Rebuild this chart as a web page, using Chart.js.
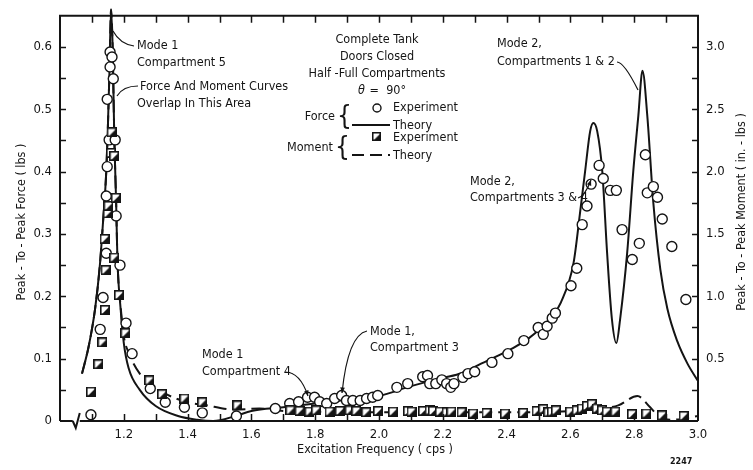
<!DOCTYPE html>
<html>
<head>
<meta charset="utf-8">
<script src="https://cdn.jsdelivr.net/npm/chart.js@4.4.0/dist/chart.umd.min.js"></script>
<style>
  html, body { margin: 0; padding: 0; background: #fff; }
  #wrap { width: 753px; height: 470px; }
</style>
</head>
<body>
<div id="wrap"><canvas id="freqChart" width="753" height="470"></canvas></div>
<script>
// excitation frequency (cps) vs. peak-to-peak force (lbs) and moment (in.-lbs)
const forceExpFreq = [1.097, 1.126, 1.135, 1.145, 1.145, 1.148, 1.154, 1.148, 1.157, 1.157, 1.163, 1.167, 1.173, 1.176, 1.188, 1.207, 1.226, 1.283, 1.330, 1.390, 1.446, 1.553,
  1.675, 1.720, 1.748, 1.776, 1.798, 1.814, 1.836, 1.861, 1.883, 1.898, 1.918, 1.941, 1.961, 1.980, 1.996, 2.056, 2.090, 2.137, 2.152, 2.159, 2.178, 2.197, 2.212, 2.225, 2.235,
  2.263, 2.279, 2.300, 2.354, 2.404, 2.454, 2.499, 2.515, 2.527, 2.543, 2.553, 2.602, 2.620, 2.637, 2.652, 2.665, 2.690, 2.703, 2.725, 2.744, 2.762, 2.794, 2.816, 2.835,
  2.841, 2.860, 2.873, 2.888, 2.918, 2.962];
const forceExpLbs = [0.010, 0.147, 0.198, 0.269, 0.361, 0.408, 0.451, 0.516, 0.568, 0.592, 0.584, 0.549, 0.451, 0.329, 0.250, 0.157, 0.108, 0.052, 0.030, 0.022, 0.013, 0.008,
  0.020, 0.028, 0.031, 0.038, 0.038, 0.031, 0.028, 0.036, 0.041, 0.033, 0.033, 0.033, 0.036, 0.038, 0.041, 0.054, 0.060, 0.071, 0.073, 0.060, 0.060, 0.066, 0.060, 0.054, 0.060,
  0.070, 0.076, 0.079, 0.094, 0.108, 0.129, 0.150, 0.139, 0.152, 0.165, 0.173, 0.217, 0.245, 0.315, 0.345, 0.380, 0.410, 0.389, 0.370, 0.370, 0.307, 0.259, 0.285, 0.427,
  0.366, 0.376, 0.359, 0.324, 0.280, 0.195];

const momentExpFreq = [1.097, 1.120, 1.133, 1.141, 1.143, 1.140, 1.150, 1.152, 1.160, 1.162, 1.170, 1.175, 1.170, 1.185, 1.205, 1.280, 1.320, 1.390, 1.446, 1.556,
  1.722, 1.751, 1.782, 1.803, 1.845, 1.877, 1.908, 1.929, 1.960, 1.997, 2.044, 2.091, 2.102, 2.138, 2.159, 2.169, 2.191, 2.212, 2.227, 2.259, 2.295, 2.337, 2.395, 2.452,
  2.494, 2.515, 2.531, 2.542, 2.555, 2.599, 2.620, 2.636, 2.652, 2.667, 2.683, 2.699, 2.714, 2.741, 2.793, 2.838, 2.887, 2.955];
const momentExpInLbs = [0.235, 0.455, 0.63, 0.89, 1.21, 1.46, 1.665, 1.725, 2.15, 2.315, 2.125, 1.79, 1.31, 1.01, 0.705, 0.325, 0.215, 0.18, 0.15, 0.125,
  0.085, 0.08, 0.075, 0.085, 0.075, 0.08, 0.085, 0.08, 0.07, 0.08, 0.075, 0.08, 0.075, 0.08, 0.085, 0.08, 0.075, 0.07, 0.075, 0.07, 0.06, 0.065, 0.06, 0.065,
  0.08, 0.095, 0.07, 0.075, 0.085, 0.075, 0.085, 0.10, 0.12, 0.135, 0.10, 0.085, 0.075, 0.075, 0.055, 0.06, 0.045, 0.04];

const forceTheoryFreq = [1.069, 1.09, 1.11, 1.125, 1.135, 1.145, 1.15, 1.155, 1.16, 1.165, 1.17, 1.176, 1.18, 1.19, 1.20, 1.215, 1.25, 1.30, 1.37, 1.43, 1.48, 1.55, 1.60,
  1.70, 1.80, 1.90, 2.00, 2.10, 2.20, 2.26, 2.32, 2.37, 2.42, 2.47, 2.505, 2.545, 2.57, 2.61, 2.63, 2.646, 2.662, 2.672, 2.684, 2.70, 2.715, 2.73, 2.744, 2.756, 2.778,
  2.797, 2.813, 2.826, 2.841, 2.86, 2.882, 2.904, 2.935, 2.967, 3.0];
const forceTheoryLbs = [0.076, 0.12, 0.18, 0.25, 0.32, 0.40, 0.47, 0.56, 0.66, 0.60, 0.46, 0.35, 0.26, 0.18, 0.125, 0.085, 0.05, 0.024, 0.008, 0.002, 0.0, 0.008, 0.016,
  0.022, 0.028, 0.034, 0.040, 0.056, 0.069, 0.077, 0.092, 0.104, 0.117, 0.133, 0.148, 0.170, 0.190, 0.254, 0.333, 0.400, 0.465, 0.478, 0.465, 0.400, 0.270, 0.164, 0.125, 0.164, 0.270,
  0.400, 0.490, 0.562, 0.490, 0.350, 0.243, 0.180, 0.128, 0.092, 0.064];

const momentTheoryFreq = [1.069, 1.09, 1.11, 1.125, 1.135, 1.145, 1.15, 1.155, 1.16, 1.165, 1.17, 1.176, 1.18, 1.19, 1.20, 1.215, 1.25, 1.28, 1.33, 1.40, 1.45, 1.55, 1.625,
  1.70, 1.80, 2.00, 2.20, 2.40, 2.60, 2.70, 2.75, 2.81, 2.85, 2.88, 2.92, 3.0];
const momentTheoryInLbs = [0.38, 0.60, 0.90, 1.25, 1.60, 2.00, 2.35, 2.80, 3.30, 3.00, 2.30, 1.75, 1.30, 0.92, 0.68, 0.55, 0.38, 0.31, 0.22, 0.15, 0.13, 0.09, 0.10,
  0.08, 0.075, 0.07, 0.07, 0.07, 0.08, 0.10, 0.125, 0.20, 0.11, 0.03, 0.01, 0.04];

const freqTickLabels = ['1.2', '1.4', '1.6', '1.8', '2.0', '2.2', '2.4', '2.6', '2.8', '3.0'];
const forceTickLabels = ['0', '0.1', '0.2', '0.3', '0.4', '0.5', '0.6'];
const momentTickLabels = ['0.5', '1.0', '1.5', '2.0', '2.5', '3.0'];

const INK = '#141414';
const FONT = '"Liberation Sans Narrow", "DejaVu Sans Condensed", "Liberation Sans", sans-serif';
const NOTE = '12.5px ' + FONT;

const pts = (xs, ys) => xs.map((x, i) => ({ x: x, y: ys[i] }));
const pickLabel = (list) => (v) => {
  const hit = list.find(s => Math.abs(parseFloat(s) - v) < 1e-6);
  return hit === undefined ? '' : hit;
};

// half-filled square marker for the moment readings
function halfSquare(size) {
  const c = document.createElement('canvas');
  c.width = c.height = size;
  const g = c.getContext('2d');
  g.fillStyle = '#fff';
  g.fillRect(0, 0, size, size);
  g.fillStyle = INK;
  g.beginPath();
  g.moveTo(size, 1); g.lineTo(size, size); g.lineTo(1, size);
  g.closePath();
  g.fill();
  g.strokeStyle = INK;
  g.lineWidth = 1.6;
  g.strokeRect(0.8, 0.8, size - 1.6, size - 1.6);
  return c;
}
const squareMark = halfSquare(10);

// frame with inward ticks and the axis break near the origin
const framePlugin = {
  id: 'frame',
  afterDatasetsDraw(chart) {
    const { ctx, chartArea: a, scales } = chart;
    const x = scales.x, y = scales.y, yR = scales.yR;
    ctx.save();
    ctx.strokeStyle = INK;
    ctx.lineWidth = 2;
    ctx.beginPath();
    ctx.moveTo(a.left, a.bottom); ctx.lineTo(a.left, a.top);
    ctx.lineTo(a.right, a.top); ctx.lineTo(a.right, a.bottom);
    const b = x.getPixelForValue(1.04);
    ctx.moveTo(a.left, a.bottom); ctx.lineTo(b, a.bottom);
    ctx.moveTo(b, a.bottom); ctx.lineTo(b + 3, a.bottom + 7); ctx.lineTo(b + 7, a.bottom - 8);
    ctx.moveTo(b + 7, a.bottom); ctx.lineTo(a.right, a.bottom);
    ctx.stroke();

    ctx.lineWidth = 1.5;
    ctx.beginPath();
    for (let f = 1.1; f < 2.95; f += 0.1) {
      const px = Math.round(x.getPixelForValue(f)) + 0.5;
      ctx.moveTo(px, a.bottom); ctx.lineTo(px, a.bottom - 7);
      ctx.moveTo(px, a.top); ctx.lineTo(px, a.top + 7);
    }
    y.ticks.forEach(t => {
      if (t.value <= 0 || t.value >= 0.65) return;
      const py = Math.round(y.getPixelForValue(t.value)) + 0.5;
      ctx.moveTo(a.left, py); ctx.lineTo(a.left + 6, py);
    });
    yR.ticks.forEach(t => {
      if (t.value <= 0 || t.value >= 3.25) return;
      const py = Math.round(yR.getPixelForValue(t.value)) + 0.5;
      ctx.moveTo(a.right, py); ctx.lineTo(a.right - 6, py);
    });
    ctx.stroke();
    ctx.restore();
  }
};

function leader(ctx, pts, arrow) {
  ctx.beginPath();
  ctx.moveTo(pts[0][0], pts[0][1]);
  if (pts.length === 3) ctx.quadraticCurveTo(pts[1][0], pts[1][1], pts[2][0], pts[2][1]);
  else for (let i = 1; i < pts.length; i++) ctx.lineTo(pts[i][0], pts[i][1]);
  ctx.stroke();
  if (arrow) {
    const [ex, ey] = pts[pts.length - 1];
    const [sx, sy] = pts[pts.length - 2];
    const ang = Math.atan2(ey - sy, ex - sx);
    ctx.beginPath();
    ctx.moveTo(ex, ey);
    ctx.lineTo(ex - 6 * Math.cos(ang - 0.4), ey - 6 * Math.sin(ang - 0.4));
    ctx.lineTo(ex - 6 * Math.cos(ang + 0.4), ey - 6 * Math.sin(ang + 0.4));
    ctx.closePath();
    ctx.fill();
  }
}

// axis titles, notes, legend and leader lines
const notesPlugin = {
  id: 'notes',
  afterDraw(chart) {
    const ctx = chart.ctx;
    ctx.save();
    ctx.fillStyle = INK;
    ctx.strokeStyle = INK;
    ctx.lineWidth = 1.2;
    ctx.textBaseline = 'middle';
    ctx.font = NOTE;

    // axis titles
    ctx.textAlign = 'center';
    ctx.fillText('Excitation Frequency ( cps )', 375, 450);
    ctx.save(); ctx.translate(22, 222); ctx.rotate(-Math.PI / 2);
    ctx.fillText('Peak - To - Peak Force ( lbs )', 0, 0); ctx.restore();
    ctx.save(); ctx.translate(742, 212); ctx.rotate(-Math.PI / 2);
    ctx.fillText('Peak - To - Peak Moment ( in. - lbs )', 0, 0); ctx.restore();

    // test conditions
    ctx.fillText('Complete Tank', 377, 40);
    ctx.fillText('Doors Closed', 377, 57);
    ctx.fillText('Half -Full Compartments', 377, 74);
    ctx.textAlign = 'left';
    ctx.font = 'italic ' + NOTE;
    ctx.fillText('\u03b8', 358, 91);
    ctx.font = NOTE;
    ctx.fillText(' =  90\u00b0', 366, 91);

    // legend
    ctx.textAlign = 'right';
    ctx.fillText('Force', 335, 117);
    ctx.fillText('Moment', 333, 148);
    ctx.font = '26px ' + FONT;
    ctx.textAlign = 'left';
    ctx.fillText('{', 337, 117);
    ctx.fillText('{', 335, 148);
    ctx.font = NOTE;
    ctx.fillText('Experiment', 393, 108);
    ctx.fillText('Theory', 393, 126);
    ctx.fillText('Experiment', 393, 138);
    ctx.fillText('Theory', 393, 156);
    ctx.lineWidth = 1.4;
    ctx.beginPath(); ctx.arc(377, 108, 4, 0, Math.PI * 2);
    ctx.fillStyle = '#fff'; ctx.fill(); ctx.stroke();
    ctx.fillStyle = INK;
    ctx.drawImage(squareMark, 372, 132, 9, 9);
    ctx.lineWidth = 2;
    ctx.beginPath(); ctx.moveTo(352, 125); ctx.lineTo(390, 125); ctx.stroke();
    ctx.setLineDash([12, 6]);
    ctx.beginPath(); ctx.moveTo(352, 155); ctx.lineTo(390, 155); ctx.stroke();
    ctx.setLineDash([]);

    // mode notes
    ctx.fillText('Mode 1', 137, 46);
    ctx.fillText('Compartment 5', 137, 63);
    ctx.fillText('Force And Moment Curves', 140, 87);
    ctx.fillText('Overlap In This Area', 137, 104);
    ctx.fillText('Mode 2,', 497, 44);
    ctx.fillText('Compartments 1 & 2', 497, 62);
    ctx.fillText('Mode 2,', 470, 182);
    ctx.fillText('Compartments 3 & 4', 470, 198);
    ctx.fillText('Mode 1', 202, 355);
    ctx.fillText('Compartment 4', 202, 372);
    ctx.fillText('Mode 1,', 370, 332);
    ctx.fillText('Compartment 3', 370, 348);

    ctx.lineWidth = 1.2;
    leader(ctx, [[113, 31], [120, 44], [134, 46]], false);
    leader(ctx, [[117, 96], [123, 86], [138, 86]], false);
    leader(ctx, [[617, 62], [624, 62], [638, 90]], false);
    leader(ctx, [[578, 198], [585, 196], [591, 180]], true);
    leader(ctx, [[285, 372], [300, 372], [308, 396]], true);
    leader(ctx, [[367, 331], [348, 335], [342, 393]], true);

    ctx.font = 'bold 8px "DejaVu Sans", sans-serif';
    ctx.fillText('2247', 670, 462);
    ctx.restore();
  }
};

const tickFont = { family: FONT, size: 13 };

new Chart(document.getElementById('freqChart').getContext('2d'), {
  type: 'scatter',
  data: {
    datasets: [
      {
        label: 'Force Experiment',
        data: pts(forceExpFreq, forceExpLbs),
        yAxisID: 'y',
        pointStyle: 'circle',
        pointRadius: 5,
        pointBackgroundColor: '#fff',
        pointBorderColor: INK,
        pointBorderWidth: 1.4,
        order: 1
      },
      {
        label: 'Moment Experiment',
        data: pts(momentExpFreq, momentExpInLbs),
        yAxisID: 'yR',
        pointStyle: squareMark,
        order: 0
      },
      {
        type: 'line',
        label: 'Force Theory',
        data: pts(forceTheoryFreq, forceTheoryLbs),
        yAxisID: 'y',
        borderColor: INK,
        borderWidth: 2,
        pointRadius: 0,
        cubicInterpolationMode: 'monotone',
        clip: { left: 0, top: 12, right: 0, bottom: 0 },
        order: 3
      },
      {
        type: 'line',
        label: 'Moment Theory',
        data: pts(momentTheoryFreq, momentTheoryInLbs),
        yAxisID: 'yR',
        borderColor: INK,
        borderWidth: 2,
        borderDash: [13, 6],
        pointRadius: 0,
        cubicInterpolationMode: 'monotone',
        clip: { left: 0, top: 12, right: 0, bottom: 0 },
        order: 2
      }
    ]
  },
  options: {
    responsive: false,
    animation: false,
    layout: { padding: { top: 10, left: 0, right: 0, bottom: 0 } },
    plugins: { legend: { display: false }, tooltip: { enabled: false } },
    scales: {
      x: {
        type: 'linear', position: 'bottom', min: 1.0, max: 3.0,
        grid: { display: false, drawTicks: false },
        border: { display: false },
        ticks: { stepSize: 0.1, autoSkip: false, maxRotation: 0, padding: 6, color: INK, font: tickFont, callback: pickLabel(freqTickLabels) },
        afterFit: s => { s.height = 49; }
      },
      y: {
        type: 'linear', position: 'left', min: 0, max: 0.65,
        grid: { display: false, drawTicks: false },
        border: { display: false },
        ticks: { stepSize: 0.05, autoSkip: false, padding: 8, color: INK, font: tickFont, callback: pickLabel(forceTickLabels) },
        afterFit: s => { s.width = 60; }
      },
      yR: {
        type: 'linear', position: 'right', min: 0, max: 3.25,
        grid: { display: false, drawTicks: false },
        border: { display: false },
        ticks: { stepSize: 0.25, autoSkip: false, padding: 8, color: INK, font: tickFont, callback: pickLabel(momentTickLabels) },
        afterFit: s => { s.width = 55; }
      }
    }
  },
  plugins: [framePlugin, notesPlugin]
});
</script>
</body>
</html>
